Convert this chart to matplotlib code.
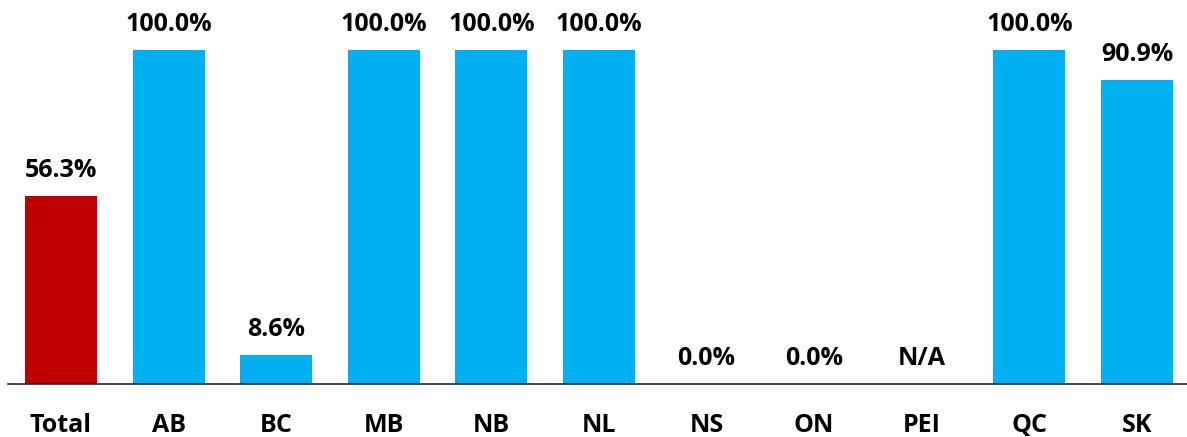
import matplotlib
matplotlib.use('Agg')
import matplotlib.pyplot as plt
import numpy as np

# Share by province (None = not available)
regions = ['Total', 'AB', 'BC', 'MB', 'NB', 'NL', 'NS', 'ON', 'PEI', 'QC', 'SK']
shares = [56.3, 100.0, 8.6, 100.0, 100.0, 100.0, 0.0, 0.0, None, 100.0, 90.9]

c_total = '#C00000'
c_prov = '#00B0F0'

plt.rcParams['font.family'] = ['Open Sans', 'DejaVu Sans']

fig = plt.figure(figsize=(11.87, 4.37), dpi=100)
ax = fig.add_axes([0.0067, 0.121, 0.9933, 0.879])

x = np.arange(len(regions))
heights = [0 if v is None else v for v in shares]
colors = [c_total] + [c_prov] * (len(regions) - 1)
ax.bar(x, heights, width=0.67, color=colors, zorder=2)

for xi, v in zip(x, shares):
    label = 'N/A' if v is None else f'{v:.1f}%'
    h = 0 if v is None else v
    ax.text(xi, h + 5.8, label, ha='center', va='baseline',
            fontsize=18, fontweight='bold', color='black')

ax.set_xlim(-0.493, 10.465)
ax.set_ylim(0, 115)
ax.set_xticks(x)
ax.set_xticklabels(regions, fontsize=18, fontweight='bold')
ax.tick_params(axis='x', length=0, pad=20.5)
ax.set_yticks([])
for side in ['top', 'right', 'left']:
    ax.spines[side].set_visible(False)
ax.spines['bottom'].set_color('#262626')
ax.spines['bottom'].set_linewidth(1.2)

fig.savefig('out.png', dpi=100)
